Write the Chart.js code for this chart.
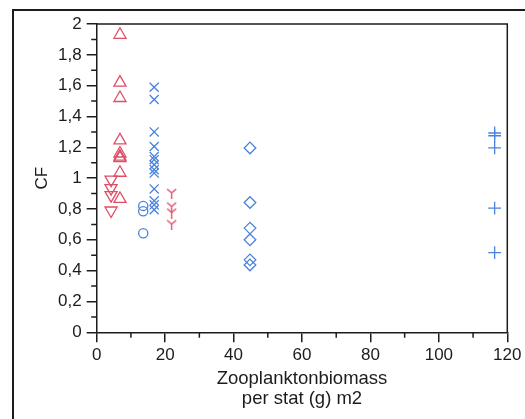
<!DOCTYPE html>
<html><head><meta charset="utf-8">
<script src="https://cdn.jsdelivr.net/npm/chart.js@4/dist/chart.umd.min.js"></script>
<style>html,body{margin:0;padding:0;background:#fff;}#wrap{width:525px;height:419px;}</style>
</head><body><div id="wrap"><canvas id="c" width="525" height="419"></canvas></div>
<script>
// ---- data ----
const xTickValues = [0, 20, 40, 60, 80, 100, 120];
const yTickValues = [0, 0.2, 0.4, 0.6, 0.8, 1, 1.2, 1.4, 1.6, 1.8, 2];
const xTitle = ['Zooplanktonbiomass', 'per stat (g) m2'];
const yTitle = 'CF';

const triUpX = [6.8, 6.8, 6.8, 6.8, 6.8, 6.8, 6.8, 6.8, 6.8];
const triUpY = [1.93, 1.62, 1.52, 1.245, 1.16, 1.14, 1.13, 1.035, 0.865];

const triDownX = [4.2, 4.2, 4.2, 4.2];
const triDownY = [0.99, 0.935, 0.89, 0.79];

const circleX = [13.6, 13.6, 13.6];
const circleY = [0.82, 0.785, 0.643];

const crossRotX = [16.8, 16.8, 16.8, 16.8, 16.8, 16.8, 16.8, 16.8, 16.8, 16.8, 16.8, 16.8, 16.8];
const crossRotY = [1.59, 1.51, 1.30, 1.205, 1.14, 1.12, 1.087, 1.055, 1.033, 0.93, 0.853, 0.827, 0.795];

const triYX = [21.9, 21.9, 21.9, 21.9];
const triYY = [0.90, 0.812, 0.773, 0.697];

const diamondX = [44.8, 44.8, 44.8, 44.8, 44.8, 44.8];
const diamondY = [1.196, 0.842, 0.676, 0.600, 0.470, 0.437];

const plusX = [116.3, 116.3, 116.3, 116.3, 116.3];
const plusY = [1.293, 1.275, 1.196, 0.806, 0.517];

// ---- styles ----
const RED = '#de4f68';
const BLUE = '#4a82dc';
const INK = '#1c1c1c';
const FONT = 'Liberation Sans, Arial, Helvetica, sans-serif';

function pts(xs, ys) { return xs.map((x, i) => ({ x: x, y: ys[i] })); }

function makeY(color) {
  const c = document.createElement('canvas');
  c.width = 11; c.height = 11;
  const g = c.getContext('2d');
  g.strokeStyle = color; g.lineWidth = 1.4; g.lineCap = 'butt';
  g.beginPath();
  g.moveTo(1, 1); g.lineTo(5.5, 4.8);
  g.moveTo(10, 1); g.lineTo(5.5, 4.8);
  g.moveTo(5.5, 4.8); g.lineTo(5.5, 11);
  g.stroke();
  return c;
}

function ds(data, style, color, radius, extra) {
  return Object.assign({
    data: data, pointStyle: style, borderColor: color, backgroundColor: 'rgba(0,0,0,0)',
    pointRadius: radius, pointBorderWidth: 1.3, showLine: false
  }, extra || {});
}

const frame = {
  id: 'frame',
  beforeDraw(chart) {
    const ctx = chart.ctx;
    ctx.save();
    ctx.strokeStyle = INK; ctx.lineWidth = 2;
    ctx.strokeRect(13, 10, 700, 700);
    ctx.restore();
  },
  afterDraw(chart) {
    const ctx = chart.ctx, a = chart.chartArea;
    const xs = chart.scales.x, ys = chart.scales.y;
    ctx.save();
    ctx.strokeStyle = INK; ctx.lineWidth = 1.5;
    ctx.beginPath();
    ctx.moveTo(a.left, a.top); ctx.lineTo(a.right, a.top); ctx.lineTo(a.right, a.bottom);
    for (let i = 0; i < yTickValues.length - 1; i++) {
      const v = (yTickValues[i] + yTickValues[i + 1]) / 2;
      const p = ys.getPixelForValue(v);
      ctx.moveTo(a.left - 5.5, p); ctx.lineTo(a.left, p);
    }
    for (let i = 0; i < xTickValues.length - 1; i++) {
      const v = (xTickValues[i] + xTickValues[i + 1]) / 2;
      const p = xs.getPixelForValue(v);
      ctx.moveTo(p, a.bottom); ctx.lineTo(p, a.bottom + 5.5);
    }
    ctx.stroke();
    ctx.restore();
  }
};

new Chart(document.getElementById('c'), {
  type: 'scatter',
  data: {
    datasets: [
      ds(pts(triUpX, triUpY), 'triangle', RED, 7),
      ds(pts(triDownX, triDownY), 'triangle', RED, 7, { pointRotation: 180 }),
      ds(pts(circleX, circleY), 'circle', BLUE, 4.6),
      ds(pts(crossRotX, crossRotY), 'crossRot', BLUE, 6.4),
      ds(pts(triYX, triYY), makeY(RED), RED, 6),
      ds(pts(diamondX, diamondY), 'rectRot', BLUE, 5.8),
      ds(pts(plusX, plusY), 'cross', BLUE, 6.4)
    ]
  },
  options: {
    responsive: false,
    animation: false,
    devicePixelRatio: 1,
    layout: { padding: { top: 24, right: 17.7, left: 0, bottom: 0 } },
    plugins: { legend: { display: false }, tooltip: { enabled: false } },
    scales: {
      x: {
        type: 'linear', min: 0, max: 120,
        afterBuildTicks: s => { s.ticks = xTickValues.map(v => ({ value: v })); },
        afterFit: s => { s.height = 86.7; },
        ticks: { font: { family: FONT, size: 17 }, color: INK, padding: 3, maxRotation: 0, autoSkip: false,
                 callback: v => String(v) },
        grid: { drawOnChartArea: false, drawTicks: true, tickLength: 10, color: INK, lineWidth: 1.5 },
        border: { display: true, color: INK, width: 1.5 },
        title: { display: true, text: xTitle, color: INK, font: { family: FONT, size: 18.5, lineHeight: 1.06 },
                 padding: { top: 0, bottom: 10.5 } }
      },
      y: {
        type: 'linear', min: 0, max: 2,
        afterBuildTicks: s => { s.ticks = yTickValues.map(v => ({ value: v })); },
        afterFit: s => { s.width = 96.7; },
        ticks: { font: { family: FONT, size: 17 }, color: INK, padding: 5, autoSkip: false,
                 callback: v => { const r = Math.round(v * 10) / 10; return String(r).replace('.', ','); } },
        grid: { drawOnChartArea: false, drawTicks: true, tickLength: 10, color: INK, lineWidth: 1.5 },
        border: { display: true, color: INK, width: 1.5 },
        title: { display: true, text: yTitle, color: INK, font: { family: FONT, size: 17, lineHeight: 1.2 },
                 padding: { top: 32, bottom: 0 } }
      }
    }
  },
  plugins: [frame]
});
</script>
</body></html>
